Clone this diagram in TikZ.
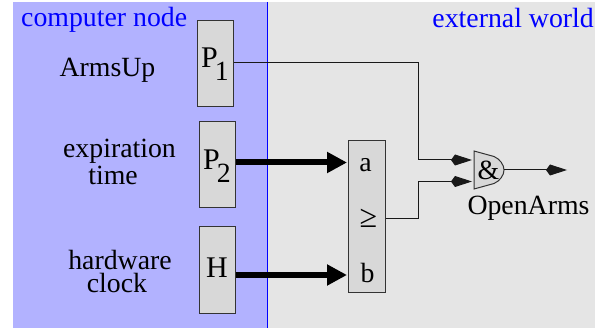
\documentclass[tikz,border=0pt]{standalone}
\usepackage{fontspec}
\setmainfont{Liberation Serif}
\usetikzlibrary{arrows.meta,positioning}
\definecolor{nodeblue}{RGB}{178,178,255}
\definecolor{worldgray}{RGB}{229,229,229}
\definecolor{boxgray}{RGB}{216,216,216}
\newcommand{\bigfont}{\fontsize{27.8}{27.8}\selectfont}
\tikzset{
  x=1pt,y=-1pt,
  regbox/.style={draw=black!80,line width=1pt,fill=boxgray,inner sep=0pt,minimum width=36pt,minimum height=86pt,font=\fontsize{30}{30}\selectfont},
  plain/.style={inner sep=0pt,font=\bigfont,anchor=base},
  lbl/.style={plain,text=blue},
  thin wire/.style={line width=1pt,draw=black!90,-{Kite[length=21pt,width=11pt,inset=4pt]}},
  bus/.style={line width=6pt,-{Triangle[length=20pt,width=20pt]}}
}
\begin{document}
\begin{tikzpicture}
\useasboundingbox (0,0) rectangle (615,328);
\fill[worldgray] (13,2) rectangle (595,328);
\fill[nodeblue] (13,2) rectangle (267,328);
\draw[blue,line width=1pt] (267,2) -- (267,328);
\node[lbl,anchor=base west] (cn) at (21,27) {computer node};
\node[lbl,anchor=base east] (ew) at (594,28) {external world};
\node[plain] (arms) at (107.5,76.5) {ArmsUp};
\node[plain] (exp) at (119.5,158) {expiration};
\node[plain] (tim) at (113,185) {time};
\node[plain] (hw) at (120,269.5) {hardware};
\node[plain] (clk) at (117,292.5) {clock};
\node[regbox] (p1) at (215,63.5) {\rule{0pt}{22pt}P\kern-3pt\raisebox{-13pt}{\bigfont 1}};
\node[regbox] (p2) at (217,165) {\rule{0pt}{22pt}P\kern-3pt\raisebox{-13pt}{\bigfont 2}};
\node[regbox] (h) at (217,270) {\rule[-4pt]{0pt}{18pt}H};
\node[regbox,minimum width=37pt,minimum height=152pt] (cmp) at (366.5,217) {};
\node[plain] (ca) at (365.5,171.5) {a};
\node[plain,font=\fontsize{32}{32}\selectfont] (cge) at (368.5,227.5) {≥};
\node[plain] (cb) at (367.5,282.5) {b};
\draw[draw=black!80,line width=1pt,fill=boxgray] (474,151) -- (494,156.5) .. controls (500,159) and (504,165) .. (504,170) .. controls (504,175) and (500,181) .. (494,183.5) -- (474,189) -- cycle;
\node[plain] (amp) at (488.5,179.5) {\&};
\node[plain] (oa) at (528.5,215) {OpenArms};
\coordinate (in1) at (472,160);
\coordinate (in2) at (472,181.5);
\coordinate (gout) at (504,170);
\coordinate (out) at (567,170);
\coordinate (cmpout) at (385,218.5);
\draw[thin wire] (p1.east |- 0,63) -| (418,160) -- (in1);
\draw[thin wire] (cmp.east |- cmpout) -| (418.5,181.5) -- (in2);
\draw[thin wire] (gout) -- (out);
\draw[bus] (p2.east |- 0,162.5) -- (347,162.5);
\draw[bus] (h.east |- 0,275) -- (347,275);
\end{tikzpicture}
\end{document}
